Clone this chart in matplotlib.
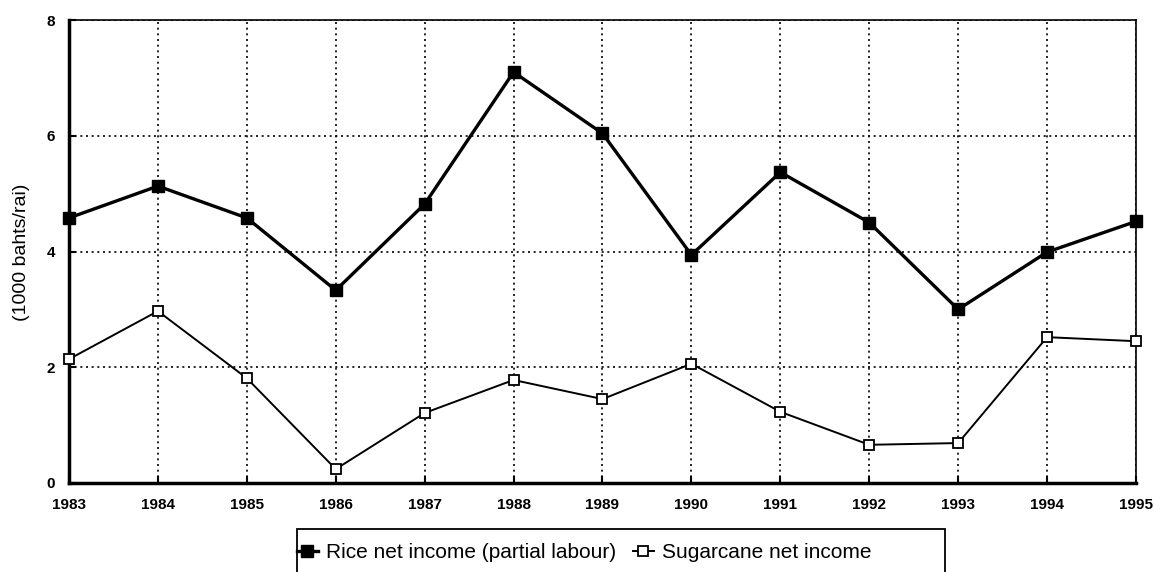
import matplotlib
matplotlib.use("Agg")
import matplotlib.pyplot as plt
from matplotlib.patches import Rectangle

years = [1983, 1984, 1985, 1986, 1987, 1988, 1989, 1990, 1991, 1992, 1993, 1994, 1995]
rice = [4.58, 5.13, 4.58, 3.33, 4.82, 7.1, 6.04, 3.94, 5.37, 4.5, 3.0, 3.99, 4.52]
sugarcane = [2.14, 2.97, 1.81, 0.24, 1.21, 1.78, 1.45, 2.06, 1.23, 0.66, 0.69, 2.52, 2.45]
y_ticks = [0, 2, 4, 6, 8]

plt.rcParams["font.family"] = ["Liberation Sans", "DejaVu Sans"]

W, H = 1154, 572
fig = plt.figure(figsize=(W / 100, H / 100), dpi=100)
ax = fig.add_axes([69 / W, 1 - 483 / H, (1136 - 69) / W, (483 - 20) / H])

ax.plot(years, rice, color="black", lw=2.4, marker="s", ms=8,
        mfc="black", mec="black", label="Rice net income (partial labour)",
        zorder=3, clip_on=False)
ax.plot(years, sugarcane, color="black", lw=1.4, marker="s", ms=7,
        mfc="white", mec="black", mew=1.3, label="Sugarcane net income",
        zorder=3, clip_on=False)

ax.set_xlim(years[0], years[-1])
ax.set_ylim(0, 8)
ax.set_xticks(years)
ax.set_yticks(y_ticks)
ax.tick_params(axis="both", labelsize=11, length=5, width=1.5, direction="in")
ax.tick_params(axis="x", pad=11)
ax.tick_params(axis="y", pad=10)
for lab in ax.get_xticklabels() + ax.get_yticklabels():
    lab.set_fontweight("bold")

ax.grid(True, color="black", linestyle=(0, (1.2, 2.2)), lw=1.2)
ax.spines["left"].set_linewidth(2.5)
ax.spines["bottom"].set_linewidth(2.5)
ax.spines["top"].set_linewidth(1.2)
ax.spines["right"].set_linewidth(1.2)

fig.text(22 / W, 1 - 252 / H, "(1000 bahts/rai)", fontsize=14,
         rotation=90, ha="center", va="center")

# legend box, cut off by the bottom of the page
fig.patches.append(Rectangle((297 / W, -0.05), (945 - 297) / W, 1 - 529 / H + 0.05,
                             transform=fig.transFigure, fill=False,
                             edgecolor="black", lw=1.3))
leg = fig.legend(loc="center left", bbox_to_anchor=(297 / W, 1 - 553 / H),
                 ncol=2, fontsize=15, frameon=False,
                 borderpad=0, handlelength=1.0, handletextpad=0.4,
                 columnspacing=0.8, borderaxespad=0)

fig.savefig("out.png", dpi=100)
